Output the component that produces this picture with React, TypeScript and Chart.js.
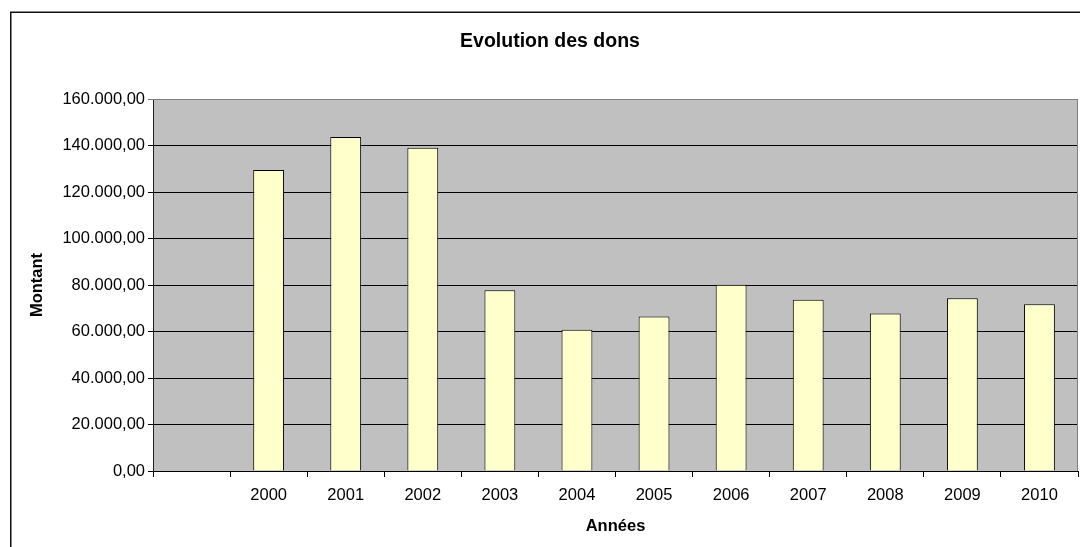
import React, { useEffect, useRef } from "react";
import { Chart, registerables } from "chart.js";

Chart.register(...registerables);

const CATEGORIES: string[] = ["", "2000", "2001", "2002", "2003", "2004", "2005", "2006", "2007", "2008", "2009", "2010"];
const DONS: (number | null)[] = [null, 129500, 143700, 139000, 77700, 60800, 66400, 80100, 73700, 67700, 74300, 71700];
const Y_MIN = 0;
const Y_MAX = 160000;
const Y_STEP = 20000;
const TITLE = "Evolution des dons";
const X_TITLE = "Années";
const Y_TITLE = "Montant";

const FONT = "'Liberation Sans', Arial, sans-serif";

function formatFr(v: number): string {
  const int = Math.round(v).toString().replace(/\B(?=(\d{3})+(?!\d))/g, ".");
  return int + ",00";
}

const framePlugin = {
  id: "framePlugin",
  beforeDraw(chart: any) {
    const { ctx, width, height, chartArea } = chart;
    ctx.save();
    ctx.fillStyle = "#ffffff";
    ctx.fillRect(0, 0, width, height);
    ctx.fillStyle = "#c0c0c0";
    ctx.fillRect(chartArea.left, chartArea.top, chartArea.right - chartArea.left, chartArea.bottom - chartArea.top);
    ctx.strokeStyle = "#111111";
    ctx.lineWidth = 1.5;
    ctx.beginPath();
    ctx.moveTo(10.75, height);
    ctx.lineTo(10.75, 12.25);
    ctx.lineTo(width, 12.25);
    ctx.stroke();
    ctx.restore();
  },
  afterDatasetsDraw(chart: any) {
    const { ctx, chartArea } = chart;
    ctx.save();
    ctx.strokeStyle = "#808080";
    ctx.lineWidth = 1;
    ctx.beginPath();
    ctx.moveTo(chartArea.left, chartArea.top + 0.5);
    ctx.lineTo(chartArea.right - 0.5, chartArea.top + 0.5);
    ctx.lineTo(chartArea.right - 0.5, chartArea.bottom);
    ctx.stroke();
    ctx.restore();
  },
};

export default function App() {
  const ref = useRef<HTMLCanvasElement | null>(null);

  useEffect(() => {
    if (!ref.current) return;
    const chart = new Chart(ref.current, {
      type: "bar",
      data: {
        labels: CATEGORIES,
        datasets: [
          {
            label: "Montant",
            data: DONS,
            backgroundColor: "#ffffcc",
            borderColor: "#000000",
            borderWidth: 1,
            categoryPercentage: 1,
            barPercentage: 0.4,
          },
        ],
      },
      options: {
        animation: false,
        responsive: false,
        layout: { padding: { left: 22, right: 2, top: 0, bottom: 0 } },
        plugins: {
          legend: { display: false },
          tooltip: { enabled: false },
          title: {
            display: true,
            text: TITLE,
            color: "#000000",
            font: { family: FONT, size: 19.5, weight: "bold" },
            padding: { top: 29.5, bottom: 46.1 },
          },
        },
        scales: {
          x: {
            offset: true,
            grid: {
              offset: true,
              drawOnChartArea: false,
              drawTicks: true,
              tickLength: 6,
              color: "#000000",
            },
            border: { display: true, color: "#000000", width: 1 },
            ticks: {
              color: "#000000",
              font: { family: FONT, size: 16.5 },
              padding: 9,
              maxRotation: 0,
              autoSkip: false,
            },
            title: {
              display: true,
              text: X_TITLE,
              color: "#000000",
              font: { family: FONT, size: 16.5, weight: "bold" },
              padding: { top: 0, bottom: 10.6 },
            },
            afterFit(scale: any) {
              scale.height = 76;
            },
          },
          y: {
            min: Y_MIN,
            max: Y_MAX,
            grid: {
              color: (c: any) => (c.tick && c.tick.value === Y_MAX ? "#808080" : "#000000"),
              drawTicks: true,
              tickLength: 5,
            },
            border: { display: true, color: "#202020", width: 1 },
            ticks: {
              stepSize: Y_STEP,
              color: "#000000",
              font: { family: FONT, size: 16.5 },
              padding: 3,
              callback: (v: any) => formatFr(Number(v)),
            },
            title: {
              display: true,
              text: Y_TITLE,
              color: "#000000",
              font: { family: FONT, size: 16.5, weight: "bold" },
              padding: { top: 5.6, bottom: 0 },
            },
            afterFit(scale: any) {
              scale.width = 131;
            },
          },
        },
      },
      plugins: [framePlugin],
    });
    return () => chart.destroy();
  }, []);

  return (
    <div style={{ position: "absolute", left: 0, top: 0, width: 1080, height: 547 }}>
      <canvas ref={ref} width={1080} height={547} style={{ display: "block" }} />
    </div>
  );
}
